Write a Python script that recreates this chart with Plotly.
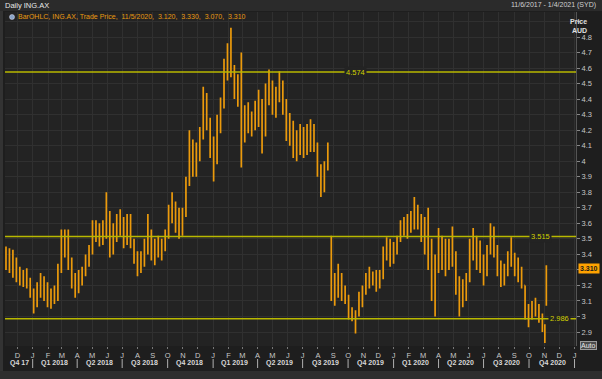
import plotly.graph_objects as go
import pandas as pd

# ---- data (weekly OHLC, plus the last days) ----
week_dates = [d.strftime("%Y-%m-%d") for d in pd.date_range("2017-11-08", periods=156, freq="7D")]
dates = week_dates + ["2020-11-02", "2020-11-05"]

opens = [3.40, 3.36, 3.40, 3.30, 3.27, 3.24, 3.28, 3.20, 3.15, 3.08,
         3.18, 3.24, 3.14, 3.10, 3.14, 3.12, 3.30, 3.48, 3.50, 3.36,
         3.22, 3.18, 3.26, 3.28, 3.36, 3.42, 3.56, 3.52, 3.56, 3.58,
         3.66, 3.44, 3.56, 3.60, 3.55, 3.50, 3.62, 3.48, 3.38, 3.30,
         3.38, 3.46, 3.52, 3.40, 3.44, 3.42, 3.46, 3.52, 3.68, 3.72,
         3.60, 3.56, 3.66, 3.86, 4.06, 3.96, 4.08, 4.16, 4.36, 4.26,
         4.08, 4.00, 4.24, 4.36, 4.60, 4.66, 4.60, 4.46, 4.42, 4.20,
         4.28, 4.22, 4.26, 4.34, 4.28, 4.18, 4.44, 4.48, 4.36, 4.40,
         4.50, 4.36, 4.22, 4.18, 4.08, 4.14, 4.10, 4.16, 4.10, 4.20,
         4.10, 3.96, 3.84, 3.96, 3.50, 3.20, 3.14, 3.26, 3.14, 3.12,
         3.02, 3.00, 3.02, 3.12, 3.16, 3.22, 3.26, 3.26, 3.20, 3.26,
         3.40, 3.48, 3.38, 3.44, 3.50, 3.58, 3.56, 3.62, 3.64, 3.66,
         3.60, 3.54, 3.60, 3.36, 3.20, 3.32, 3.48, 3.40, 3.44, 3.36,
         3.40, 3.20, 3.12, 3.20, 3.24, 3.44, 3.42, 3.46, 3.34, 3.30,
         3.42, 3.52, 3.44, 3.30, 3.24, 3.30, 3.36, 3.40, 3.32, 3.28,
         3.20, 3.04, 3.00, 3.06, 3.04, 3.00, 2.94, 3.12]
highs = [3.45, 3.44, 3.43, 3.38, 3.32, 3.30, 3.31, 3.25, 3.18, 3.22,
         3.28, 3.26, 3.22, 3.18, 3.20, 3.34, 3.56, 3.56, 3.56, 3.38,
         3.28, 3.30, 3.32, 3.40, 3.46, 3.62, 3.62, 3.60, 3.62, 3.80,
         3.68, 3.60, 3.66, 3.69, 3.64, 3.66, 3.66, 3.50, 3.42, 3.42,
         3.50, 3.66, 3.56, 3.50, 3.52, 3.50, 3.56, 3.72, 3.80, 3.74,
         3.70, 3.70, 3.90, 4.20, 4.14, 4.12, 4.22, 4.48, 4.44, 4.28,
         4.16, 4.30, 4.41, 4.66, 4.76, 4.86, 4.62, 4.56, 4.70, 4.36,
         4.38, 4.32, 4.39, 4.46, 4.40, 4.50, 4.59, 4.52, 4.48, 4.58,
         4.52, 4.40, 4.31, 4.26, 4.20, 4.24, 4.22, 4.24, 4.27, 4.24,
         4.12, 3.98, 4.00, 4.12, 3.52, 3.28, 3.34, 3.28, 3.20, 3.14,
         3.06, 3.04, 3.16, 3.20, 3.28, 3.32, 3.29, 3.30, 3.30, 3.45,
         3.51, 3.50, 3.48, 3.52, 3.62, 3.64, 3.66, 3.68, 3.77, 3.72,
         3.66, 3.64, 3.70, 3.50, 3.40, 3.57, 3.52, 3.50, 3.50, 3.58,
         3.42, 3.26, 3.24, 3.28, 3.50, 3.57, 3.52, 3.49, 3.40, 3.46,
         3.60, 3.58, 3.46, 3.36, 3.34, 3.42, 3.51, 3.41, 3.38, 3.32,
         3.20, 3.08, 3.10, 3.12, 3.08, 3.02, 2.95, 3.33]
lows = [3.30, 3.28, 3.25, 3.22, 3.20, 3.19, 3.18, 3.12, 3.02, 3.06,
        3.12, 3.10, 3.06, 3.05, 3.08, 3.10, 3.28, 3.38, 3.30, 3.18,
        3.12, 3.15, 3.20, 3.26, 3.32, 3.40, 3.48, 3.45, 3.46, 3.50,
        3.38, 3.40, 3.48, 3.52, 3.44, 3.46, 3.44, 3.34, 3.26, 3.28,
        3.32, 3.40, 3.36, 3.33, 3.38, 3.36, 3.42, 3.50, 3.60, 3.54,
        3.50, 3.52, 3.64, 3.84, 3.90, 3.90, 4.00, 4.14, 4.20, 4.02,
        3.87, 3.98, 4.18, 4.34, 4.52, 4.54, 4.40, 4.35, 3.96, 4.12,
        4.18, 4.16, 4.20, 4.22, 4.05, 4.16, 4.36, 4.30, 4.28, 4.38,
        4.30, 4.13, 4.10, 4.02, 4.00, 4.04, 4.02, 4.04, 4.06, 4.06,
        3.90, 3.77, 3.80, 3.94, 3.10, 3.07, 3.12, 3.10, 3.08, 2.98,
        2.97, 2.89, 3.00, 3.06, 3.14, 3.18, 3.20, 3.16, 3.18, 3.24,
        3.36, 3.32, 3.34, 3.40, 3.48, 3.52, 3.50, 3.54, 3.56, 3.56,
        3.48, 3.40, 3.30, 3.10, 3.00, 3.28, 3.30, 3.26, 3.30, 3.32,
        3.14, 3.00, 3.06, 3.10, 3.22, 3.36, 3.30, 3.28, 3.20, 3.26,
        3.40, 3.38, 3.26, 3.19, 3.20, 3.26, 3.32, 3.26, 3.22, 3.18,
        2.98, 2.93, 2.98, 3.00, 2.96, 2.90, 2.83, 3.07]
closes = [3.36, 3.40, 3.30, 3.27, 3.24, 3.28, 3.20, 3.15, 3.08, 3.18,
          3.24, 3.14, 3.10, 3.14, 3.12, 3.30, 3.48, 3.50, 3.36, 3.22,
          3.18, 3.26, 3.28, 3.36, 3.42, 3.56, 3.52, 3.56, 3.58, 3.66,
          3.44, 3.56, 3.60, 3.55, 3.50, 3.62, 3.48, 3.38, 3.30, 3.38,
          3.46, 3.52, 3.40, 3.44, 3.42, 3.46, 3.52, 3.68, 3.72, 3.60,
          3.56, 3.66, 3.86, 4.06, 3.96, 4.08, 4.16, 4.36, 4.26, 4.08,
          4.00, 4.24, 4.36, 4.60, 4.66, 4.60, 4.46, 4.42, 4.20, 4.28,
          4.22, 4.26, 4.34, 4.28, 4.18, 4.44, 4.48, 4.36, 4.40, 4.50,
          4.36, 4.22, 4.18, 4.08, 4.14, 4.10, 4.16, 4.10, 4.20, 4.10,
          3.96, 3.84, 3.96, 4.08, 3.20, 3.14, 3.26, 3.14, 3.12, 3.02,
          3.00, 3.02, 3.12, 3.16, 3.22, 3.26, 3.26, 3.20, 3.26, 3.40,
          3.48, 3.38, 3.44, 3.50, 3.58, 3.56, 3.62, 3.64, 3.66, 3.60,
          3.54, 3.60, 3.36, 3.20, 3.32, 3.48, 3.40, 3.44, 3.36, 3.40,
          3.20, 3.12, 3.20, 3.24, 3.44, 3.42, 3.46, 3.34, 3.30, 3.42,
          3.52, 3.44, 3.30, 3.24, 3.30, 3.36, 3.40, 3.32, 3.28, 3.20,
          3.04, 3.00, 3.06, 3.04, 3.00, 2.94, 2.86, 3.31]

ref_levels = [4.574, 3.515, 2.986]
ref_label_dates = ["2019-10-16", "2020-10-25", "2020-12-01"]
last_price = 3.310

price_ticks = [round(2.9 + 0.1 * k, 1) for k in range(21)]
hidden_ticks = [4.9, 3.3]  # covered by the axis title and the last-price box
price_text = [("" if v in hidden_ticks else f"{v:g}") for v in price_ticks]

month_ticks = pd.date_range("2017-12-01", "2021-01-01", freq="MS")
month_text = [d.strftime("%b")[0] for d in month_ticks]
quarter_labels = ["Q4 17", "Q1 2018", "Q2 2018", "Q3 2018", "Q4 2018",
                  "Q1 2019", "Q2 2019", "Q3 2019", "Q4 2019",
                  "Q1 2020", "Q2 2020", "Q3 2020", "Q4 2020"]
quarter_mids = ["2017-12-05", "2018-02-14", "2018-05-16", "2018-08-16", "2018-11-15",
                "2019-02-14", "2019-05-16", "2019-08-16", "2019-11-15",
                "2020-02-14", "2020-05-16", "2020-08-16", "2020-11-17"]
quarter_starts = pd.date_range("2018-01-01", "2021-01-01", freq="QS")

# ---- geometry helpers (pixel -> paper) ----
L, R, T, B = 5, 576, 12, 346
W, H = R - L, B - T
def px(x):
    return (x - L) / W
def py(y):
    return (B - y) / H

ORANGE = "#eb9a0c"
YEL = "#b8b800"
PLOTBG = "#232323"
TXT = "#c8c8c8"
FONT = "Liberation Sans"

fig = go.Figure()
fig.add_trace(go.Ohlc(
    x=dates, open=opens, high=highs, low=lows, close=closes,
    increasing=dict(line=dict(color=ORANGE, width=1.7)),
    decreasing=dict(line=dict(color=ORANGE, width=1.7)),
    tickwidth=0.5, hoverinfo="skip", showlegend=False,
))

shapes = []
annotations = []

# header bar
shapes.append(dict(type="rect", xref="paper", yref="paper", x0=px(0), x1=px(602),
                   y0=py(11), y1=py(0), fillcolor="#2b2b2b", line=dict(width=0), layer="below"))
# left and bottom frame strips
shapes.append(dict(type="rect", xref="paper", yref="paper", x0=px(0), x1=px(3),
                   y0=py(371), y1=py(11), fillcolor="#333333", line=dict(width=0), layer="below"))
shapes.append(dict(type="rect", xref="paper", yref="paper", x0=px(0), x1=px(602),
                   y0=py(379), y1=py(371), fillcolor="#2e2e2e", line=dict(width=0), layer="below"))

# reference levels
for lv, ld in zip(ref_levels, ref_label_dates):
    shapes.append(dict(type="line", xref="paper", yref="y", x0=0, x1=1, y0=lv, y1=lv,
                       line=dict(color=YEL, width=1.5)))
    annotations.append(dict(x=ld, y=lv, xref="x", yref="y", text=f"{lv:.3f}", showarrow=False,
                            font=dict(family=FONT, size=7.5, color="#d0d000"),
                            bgcolor=PLOTBG, borderpad=1))

# quarter separators and labels
for qs in quarter_starts:
    shapes.append(dict(type="line", xref="x", yref="paper", x0=qs, x1=qs,
                       y0=py(359), y1=py(368), line=dict(color="#b0b0b0", width=1)))
for ql, qm in zip(quarter_labels, quarter_mids):
    annotations.append(dict(x=qm, y=py(363.5), xref="x", yref="paper", text=f"<b>{ql}</b>",
                            showarrow=False, yanchor="middle",
                            font=dict(family=FONT, size=7, color="#d8d8d8")))

# header texts
annotations.append(dict(x=px(3), y=py(5.5), xref="paper", yref="paper", text="Daily ING.AX",
                        showarrow=False, xanchor="left", yanchor="middle",
                        font=dict(family=FONT, size=7.5, color="#e8e8e8")))
annotations.append(dict(x=px(598), y=py(5.5), xref="paper", yref="paper",
                        text="11/6/2017 - 1/4/2021 (SYD)", showarrow=False, xanchor="right",
                        yanchor="middle", font=dict(family=FONT, size=7, color="#d0d0d0")))
# legend line
shapes.append(dict(type="circle", xref="paper", yref="paper", x0=px(9.5), x1=px(14.5),
                   y0=py(19.5), y1=py(14.5), fillcolor="#8aa4c8", line=dict(color="#dde", width=0.5)))
annotations.append(dict(x=px(16), y=py(17), xref="paper", yref="paper",
                        text="BarOHLC, ING.AX, Trade Price,  11/5/2020,  3.120,  3.330,  3.070,  3.310",
                        showarrow=False, xanchor="left", yanchor="middle",
                        font=dict(family=FONT, size=7, color="#e89a10")))
# axis title
annotations.append(dict(x=px(589), y=py(16), xref="paper", yref="paper", text="<b>Price</b>",
                        showarrow=False, font=dict(family=FONT, size=7, color="#e0e0e0")))
annotations.append(dict(x=px(589), y=py(25), xref="paper", yref="paper", text="<b>AUD</b>",
                        showarrow=False, font=dict(family=FONT, size=7, color="#e0e0e0")))
# last price box
annotations.append(dict(x=px(578), y=last_price, xref="paper", yref="y", text=f"<b>{last_price:.3f}</b>",
                        showarrow=False, xanchor="left", yanchor="middle",
                        font=dict(family=FONT, size=7, color="#1a1a1a"),
                        bgcolor="#ffa200", borderpad=1))
# Auto box
annotations.append(dict(x=px(580), y=py(345.5), xref="paper", yref="paper", text="Auto",
                        showarrow=False, xanchor="left", yanchor="middle",
                        font=dict(family=FONT, size=7, color="#e8e8e8"),
                        bgcolor="#4a4a4a", bordercolor="#9a9a9a", borderwidth=1, borderpad=0))

fig.update_layout(
    width=602, height=379, autosize=False,
    margin=dict(l=L, r=602 - R, t=T, b=379 - B),
    paper_bgcolor="#1e1e1e", plot_bgcolor=PLOTBG,
    font=dict(family=FONT, size=7, color=TXT),
    showlegend=False, hovermode=False,
    shapes=shapes, annotations=annotations,
    xaxis=dict(type="date", range=["2017-11-06", "2021-01-04"],
               tickvals=list(month_ticks), ticktext=month_text,
               ticks="outside", ticklen=2, tickcolor="#777",
               showgrid=True, gridcolor="#303030", gridwidth=1,
               zeroline=False, showline=False,
               tickfont=dict(family=FONT, size=7.5, color=TXT),
               rangeslider=dict(visible=False), fixedrange=True),
    yaxis=dict(side="right", range=[2.81, 4.961],
               tickvals=price_ticks, ticktext=price_text,
               ticks="outside", ticklen=3, tickcolor="#888",
               showgrid=True, gridcolor="#303030", gridwidth=1,
               showline=True, linecolor="#555", linewidth=1,
               zeroline=False, tickfont=dict(family=FONT, size=7.5, color=TXT),
               fixedrange=True),
)

fig.write_html("out.html", config={"displayModeBar": False},
               post_script="document.body.style.margin='0px';document.body.style.background='#1e1e1e';")
